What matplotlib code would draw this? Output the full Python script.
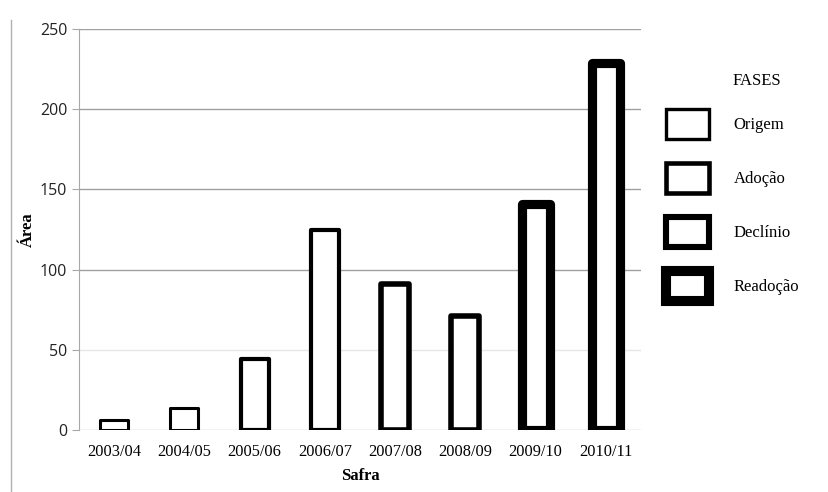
import matplotlib.pyplot as plt
from matplotlib.patches import Patch
from matplotlib.lines import Line2D

# dados
safras = ['2003/04', '2004/05', '2005/06', '2006/07', '2007/08', '2008/09', '2009/10', '2010/11']
areas = [6, 14, 44, 125, 91, 71, 141, 229]
fases = ['Origem', 'Origem', 'Adoção', 'Adoção', 'Declínio', 'Declínio', 'Readoção', 'Readoção']
nomes_fases = ['Origem', 'Adoção', 'Declínio', 'Readoção']

# espessura da borda por fase (em pontos)
espessura = {'Origem': 2.2, 'Adoção': 3.0, 'Declínio': 4.0, 'Readoção': 6.6}

fig = plt.figure(figsize=(8.29, 4.92), dpi=100)
ax = fig.add_axes([0.0953, 0.126, 0.678, 0.815])

posicoes = range(len(safras))
for p, valor, fase in zip(posicoes, areas, fases):
    ax.bar(p, valor, width=0.40, facecolor='white', edgecolor='black',
           linewidth=espessura[fase], joinstyle='round', zorder=3)

ax.set_xlim(-0.5, len(safras) - 0.5)
ax.set_ylim(0, 250)
ax.set_yticks([0, 50, 100, 150, 200, 250])
ax.set_xticks(list(posicoes))
ax.set_xticklabels(safras, family='Liberation Serif', fontsize=11.8)

# linhas de grade (a de 50 mais clara, como no original)
for y in [100, 150, 200, 250]:
    ax.axhline(y, color='#a0a0a0', linewidth=1.0, zorder=1)
ax.axhline(50, color='#e6e6e6', linewidth=1.0, zorder=1)
ax.axhline(0, color='#bdbdbd', linewidth=1.0, zorder=1)

for lado in ['top', 'right', 'bottom']:
    ax.spines[lado].set_visible(False)
ax.spines['left'].set_color('#a8a8a8')
ax.tick_params(axis='y', length=5, color='#a8a8a8', labelsize=11.5, labelcolor='#222222')
ax.tick_params(axis='x', length=0, pad=10)
for rotulo in ax.get_yticklabels():
    rotulo.set_family('Open Sans')

ax.set_ylabel('Área', family='Liberation Serif', fontweight='bold', fontsize=12, labelpad=3)
ax.set_xlabel('Safra', family='Liberation Serif', fontweight='bold', fontsize=12, labelpad=6)

# legenda
handles = [Patch(facecolor='white', edgecolor='black', linewidth=espessura[n] * 1.1, joinstyle='round')
           for n in nomes_fases]
leg = fig.legend(handles, nomes_fases, loc='upper left',
                 bbox_to_anchor=(0.8034, 0.7785), frameon=False,
                 prop={'family': 'Liberation Serif', 'size': 12},
                 handlelength=2.6, handleheight=2.39, labelspacing=1.44,
                 handletextpad=1.45, borderpad=0, borderaxespad=0)
fig.text(733 / 829, 1 - 81 / 492, 'FASES', family='Liberation Serif', fontsize=12,
         ha='left', va='center')

# borda esquerda da area do grafico
fig.add_artist(Line2D([0.0133, 0.0133], [0.0, 0.96], color='#b0b0b0', linewidth=1.0))

plt.savefig('out.png', dpi=100)
